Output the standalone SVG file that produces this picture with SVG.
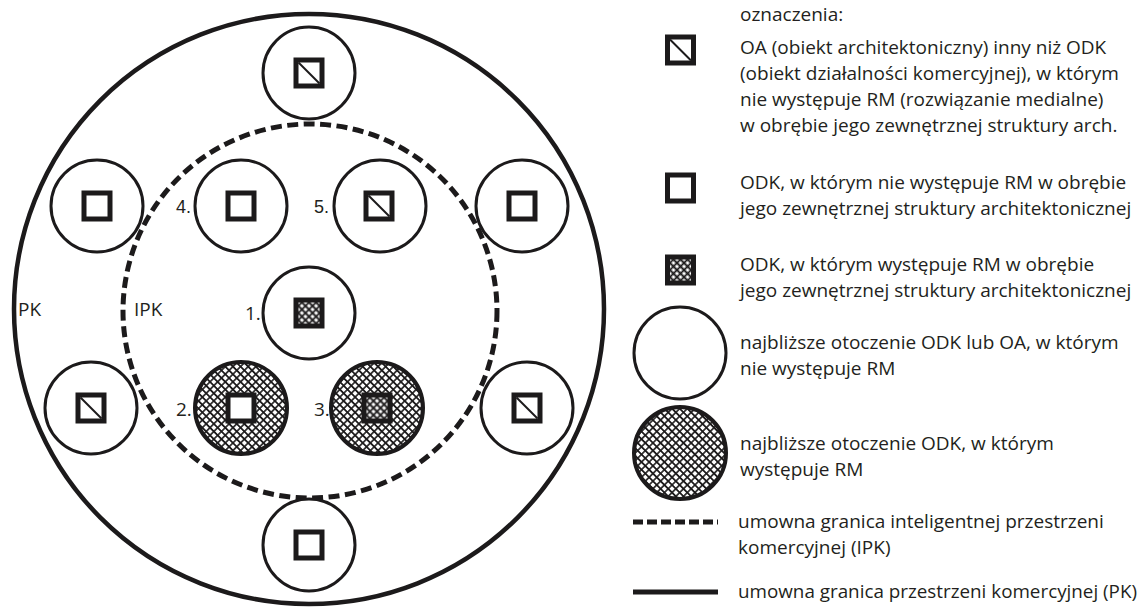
<svg xmlns="http://www.w3.org/2000/svg" xmlns:xlink="http://www.w3.org/1999/xlink" width="1140" height="610" viewBox="0 0 1140 610">
  <style>
    .ring { fill: #fff; stroke: #1c1a1b; stroke-width: 3; }
    .ringh { fill: url(#hatch); stroke: #1c1a1b; stroke-width: 4; }
    .box { fill: #fff; stroke: #1c1a1b; stroke-width: 5; }
    .boxh { fill: url(#hatchS); stroke: #1c1a1b; stroke-width: 5; }
    .diag { stroke: #1c1a1b; stroke-width: 2; fill: none; }
    .pk { fill: none; stroke: #1c1a1b; stroke-width: 4.5; }
    .ipk { fill: none; stroke: #1c1a1b; stroke-width: 5; stroke-dasharray: 11 5.5; }
    .lg { font-family: "Open Sans", "Noto Sans", sans-serif; font-size: 19px; fill: #231f20; }
    .num { font-family: "Liberation Sans", Arial, sans-serif; font-size: 18px; fill: #231f20; }
  </style>
  <defs>
    <!-- cross-hatching for the surroundings where RM occurs -->
    <pattern id="hatch" width="5.4" height="5.4" patternUnits="userSpaceOnUse" patternTransform="rotate(45)">
      <rect width="5.4" height="5.4" fill="#fff"/>
      <path d="M0 2.7H5.4M2.7 0V5.4" stroke="#1c1a1b" stroke-width="1.6"/>
    </pattern>
    <!-- cross-hatching inside ODK squares with RM -->
    <pattern id="hatchS" width="5" height="5" patternUnits="userSpaceOnUse" patternTransform="rotate(45)">
      <rect width="5" height="5" fill="#fff"/>
      <path d="M0 2.5H5M2.5 0V5" stroke="#1c1a1b" stroke-width="1.8"/>
    </pattern>
    <!-- OA: architectural object other than ODK -->
    <g id="sq-oa">
      <rect x="-13" y="-13" width="26" height="26" class="box"/>
      <path d="M-10.5 -10.5L10.5 10.5" class="diag"/>
    </g>
    <!-- ODK without RM -->
    <g id="sq-odk">
      <rect x="-13" y="-13" width="26" height="26" class="box"/>
    </g>
    <!-- ODK with RM -->
    <g id="sq-rm">
      <rect x="-13" y="-13" width="26" height="26" class="boxh"/>
    </g>
  </defs>

  <rect width="1140" height="610" fill="#fff"/>

  <!-- boundaries: commercial space (PK) and intelligent commercial space (IPK) -->
  <g id="boundaries">
    <circle cx="309" cy="309" r="295" class="pk"/>
    <circle cx="310" cy="311" r="187" class="ipk"/>
    <text x="18" y="316" class="lg">PK</text>
    <text x="134" y="316" class="lg">IPK</text>
  </g>

  <g id="connectors"/>

  <!-- objects -->
  <g id="node-top">
    <circle cx="309" cy="73" r="46" class="ring"/>
    <use xlink:href="#sq-oa" x="309" y="73"/>
  </g>
  <g id="node-top-left">
    <circle cx="97" cy="206" r="46" class="ring"/>
    <use xlink:href="#sq-odk" x="97" y="206"/>
  </g>
  <g id="node-4">
    <circle cx="241" cy="206" r="46" class="ring"/>
    <use xlink:href="#sq-odk" x="241" y="206"/>
    <text x="176" y="213" class="num">4.</text>
  </g>
  <g id="node-5">
    <circle cx="380" cy="206" r="46" class="ring"/>
    <use xlink:href="#sq-oa" x="379" y="206"/>
    <text x="314" y="213" class="num">5.</text>
  </g>
  <g id="node-top-right">
    <circle cx="522" cy="206" r="46" class="ring"/>
    <use xlink:href="#sq-odk" x="522" y="206"/>
  </g>
  <g id="node-1">
    <circle cx="309" cy="313" r="46" class="ring"/>
    <use xlink:href="#sq-rm" x="309" y="313"/>
    <text x="245" y="320" class="lg">1.</text>
  </g>
  <g id="node-bottom-left">
    <circle cx="91" cy="408" r="46" class="ring"/>
    <use xlink:href="#sq-oa" x="91" y="408"/>
  </g>
  <g id="node-2">
    <circle cx="241" cy="408" r="46" class="ringh"/>
    <use xlink:href="#sq-odk" x="241" y="408"/>
    <text x="176" y="416" class="lg">2.</text>
  </g>
  <g id="node-3">
    <circle cx="377" cy="408" r="46" class="ringh"/>
    <use xlink:href="#sq-rm" x="377" y="408"/>
    <text x="314" y="416" class="lg">3.</text>
  </g>
  <g id="node-bottom-right">
    <circle cx="527" cy="408" r="46" class="ring"/>
    <use xlink:href="#sq-oa" x="527" y="408"/>
  </g>
  <g id="node-bottom">
    <circle cx="309" cy="545" r="46" class="ring"/>
    <use xlink:href="#sq-odk" x="309" y="545"/>
  </g>

  <!-- legend -->
  <g id="legend">
    <text x="740" y="21" class="lg">oznaczenia:</text>

    <use xlink:href="#sq-oa" x="680.5" y="50"/>
    <text class="lg">
      <tspan x="740" y="54">OA (obiekt architektoniczny) inny niż ODK</tspan>
      <tspan x="740" y="80">(obiekt działalności komercyjnej), w którym</tspan>
      <tspan x="740" y="106">nie występuje RM (rozwiązanie medialne)</tspan>
      <tspan x="740" y="132">w obrębie jego zewnętrznej struktury arch.</tspan>
    </text>

    <use xlink:href="#sq-odk" x="680.5" y="188"/>
    <text class="lg">
      <tspan x="740" y="189">ODK, w którym nie występuje RM w obrębie</tspan>
      <tspan x="740" y="215">jego zewnętrznej struktury architektonicznej</tspan>
    </text>

    <use xlink:href="#sq-rm" x="680.5" y="270"/>
    <text class="lg">
      <tspan x="740" y="271">ODK, w którym występuje RM w obrębie</tspan>
      <tspan x="740" y="297">jego zewnętrznej struktury architektonicznej</tspan>
    </text>

    <circle cx="680" cy="353" r="46" class="ring"/>
    <text class="lg">
      <tspan x="740" y="349">najbliższe otoczenie ODK lub OA, w którym</tspan>
      <tspan x="740" y="375">nie występuje RM</tspan>
    </text>

    <circle cx="680" cy="453" r="46" class="ringh"/>
    <text class="lg">
      <tspan x="740" y="450">najbliższe otoczenie ODK, w którym</tspan>
      <tspan x="740" y="476">występuje RM</tspan>
    </text>

    <path d="M633 522H718" stroke="#1c1a1b" stroke-width="5" stroke-dasharray="10 4"/>
    <text class="lg">
      <tspan x="738" y="528">umowna granica inteligentnej przestrzeni</tspan>
      <tspan x="738" y="554">komercyjnej (IPK)</tspan>
    </text>

    <path d="M633 592H718" stroke="#1c1a1b" stroke-width="5"/>
    <text x="738" y="598" class="lg" textLength="399" lengthAdjust="spacingAndGlyphs">umowna granica przestrzeni komercyjnej (PK)</text>
  </g>
</svg>
